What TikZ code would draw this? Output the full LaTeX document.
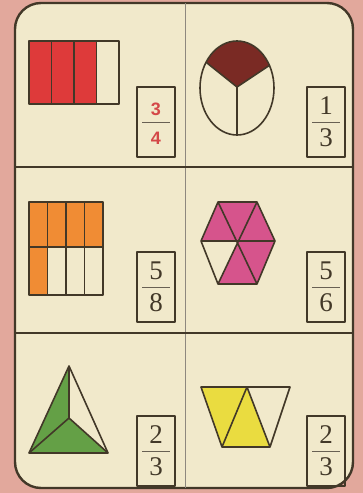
\documentclass[tikz,border=0pt]{standalone}
\usepackage{fontspec}
\setmainfont{Liberation Serif}
\setsansfont{Liberation Sans}
\usetikzlibrary{positioning}
\definecolor{bgpink}{RGB}{226,168,156}
\definecolor{cream}{RGB}{241,233,203}
\definecolor{ink}{RGB}{66,56,40}
\definecolor{redfill}{RGB}{222,58,58}
\definecolor{brownfill}{RGB}{122,42,36}
\definecolor{orangefill}{RGB}{240,140,52}
\definecolor{pinkfill}{RGB}{214,84,140}
\definecolor{greenfill}{RGB}{100,160,70}
\definecolor{yellowfill}{RGB}{234,220,64}
\definecolor{redtext}{RGB}{212,72,72}
\begin{document}
\begin{tikzpicture}[x=1pt,y=-1pt,line join=round,
    figline/.style={draw=ink,line width=1.6pt},
    fracbox/.style={draw=ink,line width=1.5pt,minimum width=38pt,minimum height=70pt,inner sep=0pt},
    digit/.style={inner sep=0pt,text=ink,font=\fontsize{27}{27}\selectfont}]
  \fill[bgpink] (0,0) rectangle (363,493);
  \useasboundingbox (0,0) rectangle (363,493);
  \draw[draw=ink,line width=2.4pt,fill=cream,rounded corners=26pt] (15,3) rectangle (353,488);
  \draw[ink!60,line width=0.8pt] (185,3) -- (185,488);
  \draw[ink,line width=1.3pt] (15,167) -- (353,167);
  \draw[ink,line width=1.3pt] (15,333) -- (353,333);

  % 3/4 bars
  \foreach \i in {0,1,2}
    \fill[redfill] ({29+22.5*\i},41) rectangle ++(22.5,63);
  \draw[figline] (29,41) rectangle (119,104);
  \foreach \i in {1,2,3}
    \draw[figline] ({29+22.5*\i},41) -- ({29+22.5*\i},104);

  % 1/3 ellipse
  \begin{scope}
    \clip (237,88) ellipse (37 and 47);
    \fill[brownfill] (237,87) -- (177,39) -- (237,20) -- (303,43) -- cycle;
    \draw[figline] (237,87) -- (177,39) (237,87) -- (303,43) (237,87) -- (237,140);
  \end{scope}
  \draw[figline] (237,88) ellipse (37 and 47);

  % 5/8 grid
  \fill[orangefill] (29,202) rectangle (103,247);
  \fill[orangefill] (29,247) rectangle (47.5,295);
  \draw[figline] (29,202) rectangle (103,295);
  \draw[figline] (29,247) -- (103,247);
  \foreach \x in {47.5,66,84.5}
    \draw[figline] (\x,202) -- (\x,295);

  % 5/6 hexagon
  \fill[pinkfill] (238,241) -- (201,241) -- (218,202) -- (257,202) -- (275,241) -- (257,284) -- (218,284) -- cycle;
  \fill[cream] (238,241) -- (201,241) -- (218,284) -- cycle;
  \draw[figline] (218,202) -- (257,202) -- (275,241) -- (257,284) -- (218,284) -- (201,241) -- cycle;
  \draw[figline] (218,202) -- (257,284) (257,202) -- (218,284) (201,241) -- (275,241);

  % 2/3 triangle
  \fill[greenfill] (69,366) -- (29,453) -- (108,453) -- (69,418) -- cycle;
  \draw[figline] (69,366) -- (29,453) -- (108,453) -- cycle;
  \draw[figline] (69,366) -- (69,418) (29,453) -- (69,418) -- (108,453);

  % 2/3 trapezoid
  \fill[yellowfill] (201,387) -- (247,387) -- (270,447) -- (222,447) -- cycle;
  \draw[figline] (201,387) -- (290,387) -- (270,447) -- (222,447) -- cycle;
  \draw[figline] (247,387) -- (222,447) (247,387) -- (270,447);

  % fraction cards
  \node[fracbox] (fa) at (156,122) {};
  \node[fracbox] (fb) at (326,122) {};
  \node[fracbox] (fc) at (156,287) {};
  \node[fracbox] (fd) at (326,287) {};
  \node[fracbox] (fe) at (156,451) {};
  \node[fracbox] (ff) at (326,451) {};
  \foreach \b in {fa,fb,fc,fd,fe,ff}
    \draw[ink!80,line width=0.7pt] ([xshift=6pt]\b.west) -- ([xshift=-6pt]\b.east);
  \node[digit,text=redtext,font=\sffamily\bfseries\fontsize{18}{18}\selectfont] (na) at (fa.center) [yshift=13pt] {3};
  \node[digit,text=redtext,font=\sffamily\bfseries\fontsize{18}{18}\selectfont] (da) at (fa.center) [yshift=-16pt] {4};
  \node[digit] (nb) at (fb.center) [yshift=16pt] {1};
  \node[digit] (db) at (fb.center) [yshift=-16pt] {3};
  \node[digit] (nc) at (fc.center) [yshift=16pt] {5};
  \node[digit] (dc) at (fc.center) [yshift=-16pt] {8};
  \node[digit] (nd) at (fd.center) [yshift=16pt] {5};
  \node[digit] (dd) at (fd.center) [yshift=-16pt] {6};
  \node[digit] (ne) at (fe.center) [yshift=16pt] {2};
  \node[digit] (de) at (fe.center) [yshift=-16pt] {3};
  \node[digit] (nf) at (ff.center) [yshift=16pt] {2};
  \node[digit] (df) at (ff.center) [yshift=-16pt] {3};
\end{tikzpicture}
\end{document}
